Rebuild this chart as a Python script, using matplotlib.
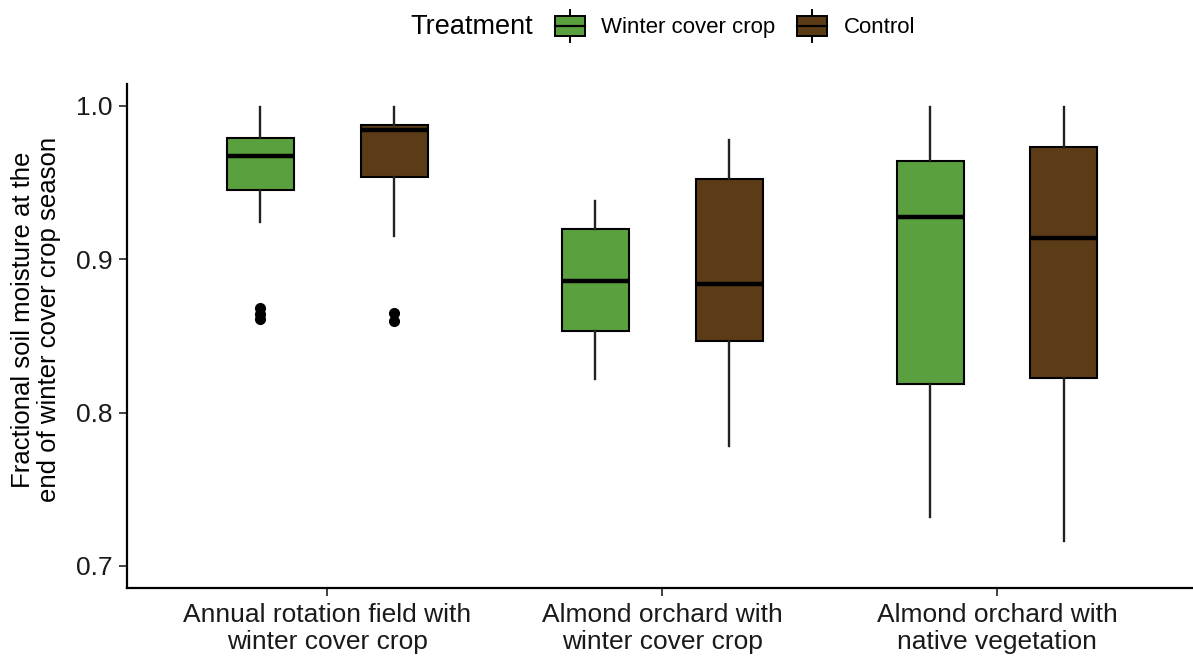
import matplotlib.pyplot as plt
from matplotlib.patches import Patch, Rectangle
from matplotlib.lines import Line2D
from matplotlib.legend_handler import HandlerBase

plt.rcParams['font.family'] = ['Liberation Sans', 'DejaVu Sans']

sites = ["Annual rotation field with\nwinter cover crop",
         "Almond orchard with\nwinter cover crop",
         "Almond orchard with\nnative vegetation"]
treatments = ["Winter cover crop", "Control"]
colors = {"Winter cover crop": "#5ba03e", "Control": "#5c3c17"}

# five-number summaries per site: (whisker low, q1, median, q3, whisker high)
cover_stats = [(0.9245, 0.945, 0.967, 0.979, 0.999),
               (0.822, 0.8534, 0.886, 0.920, 0.938),
               (0.732, 0.8185, 0.9276, 0.964, 0.999)]
control_stats = [(0.915, 0.9535, 0.9845, 0.9876, 0.999),
                 (0.778, 0.847, 0.884, 0.952, 0.978),
                 (0.716, 0.8224, 0.914, 0.9735, 0.999)]
cover_outliers = [[0.868, 0.864, 0.861], [], []]
control_outliers = [[0.865, 0.860], [], []]


def to_bxp(stats, outliers):
    out = []
    for (lo, q1, med, q3, hi), fl in zip(stats, outliers):
        out.append(dict(whislo=lo, q1=q1, med=med, q3=q3, whishi=hi, fliers=fl))
    return out


class BoxKeyHandler(HandlerBase):
    """Legend key drawn as a tiny boxplot."""
    def create_artists(self, legend, orig_handle, xdescent, ydescent,
                       width, height, fontsize, trans):
        cx = -xdescent + width / 2
        y0 = -ydescent
        whisk = Line2D([cx, cx], [y0 - 0.3 * height, y0 + 1.3 * height],
                       color="black", lw=1.4, transform=trans)
        box = Rectangle((-xdescent, y0), width, height,
                        facecolor=orig_handle.get_facecolor(),
                        edgecolor="black", lw=1.4, transform=trans)
        med = Line2D([-xdescent, -xdescent + width], [y0 + height / 2] * 2,
                     color="black", lw=1.6, transform=trans)
        return [whisk, box, med]


fig = plt.figure(figsize=(11.93, 6.57), dpi=100)
ax = fig.add_axes([0.1061, 0.105, 0.898, 0.767])

offsets = {"Winter cover crop": -0.2, "Control": 0.2}
data = {"Winter cover crop": to_bxp(cover_stats, cover_outliers),
        "Control": to_bxp(control_stats, control_outliers)}

for t in treatments:
    pos = [i + 1 + offsets[t] for i in range(len(sites))]
    ax.bxp(data[t], positions=pos, widths=0.2, patch_artist=True,
           showcaps=False,
           boxprops=dict(facecolor=colors[t], edgecolor="black", linewidth=1.5),
           whiskerprops=dict(color="#222222", linewidth=1.7),
           medianprops=dict(color="black", linewidth=3.2),
           flierprops=dict(marker="o", markerfacecolor="black",
                           markeredgecolor="black", markersize=7))

ax.set_xlim(0.4, 3.6)
ax.set_ylim(0.6856, 1.0142)
ax.set_xticks([1, 2, 3])
ax.set_xticklabels(sites, fontsize=19, color="#1a1a1a", linespacing=1.12)
ax.set_yticks([0.7, 0.8, 0.9, 1.0])
ax.set_yticklabels(["0.7", "0.8", "0.9", "1.0"], fontsize=19, color="#1a1a1a")
ax.tick_params(axis="both", length=6, width=1.3, color="#333333")
ax.tick_params(axis="y", pad=4)
ax.tick_params(axis="x", pad=5)
for side in ("top", "right"):
    ax.spines[side].set_visible(False)
for side in ("left", "bottom"):
    ax.spines[side].set_linewidth(1.6)
ax.set_ylabel("Fractional soil moisture at the\nend of winter cover crop season",
              fontsize=18.5, linespacing=1.12)
ax.yaxis.set_label_coords(-0.061, 0.532)

handles = [Patch(facecolor=colors[t], edgecolor="black") for t in treatments]
fig.text(0.3437, 0.959, "Treatment", fontsize=19.5, va="center", ha="left")
fig.legend(handles, treatments, loc="center left",
           bbox_to_anchor=(0.465, 0.959), ncol=2, frameon=False,
           fontsize=16, handler_map={Patch: BoxKeyHandler()},
           handlelength=1.35, handleheight=1.0, handletextpad=0.75,
           columnspacing=0.95, borderpad=0, borderaxespad=0)

fig.savefig("out.png", dpi=100)
